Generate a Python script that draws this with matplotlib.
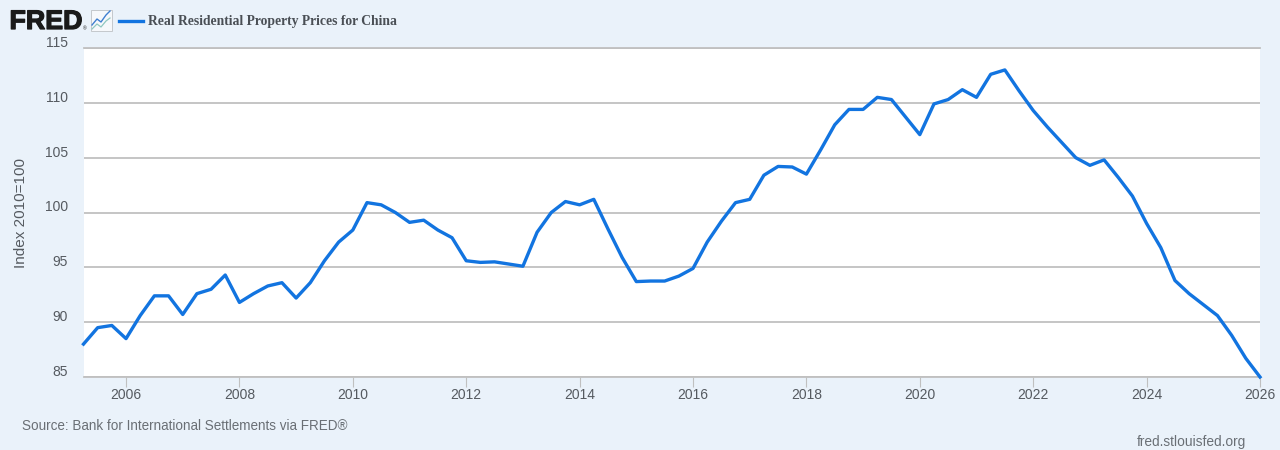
import numpy as np
import matplotlib
matplotlib.use("Agg")
import matplotlib.pyplot as plt
import matplotlib.patheffects as pe
from matplotlib.transforms import ScaledTranslation
from matplotlib.lines import Line2D
from matplotlib.patches import Rectangle

start_year = 2005.25
values = [
    88.0, 89.5, 89.7, 88.5, 90.6, 92.4, 92.4, 90.7, 92.6, 93.0, 94.3, 91.8,
    92.6, 93.3, 93.6, 92.2, 93.6, 95.6, 97.3, 98.4, 100.9, 100.7, 100.0, 99.1,
    99.3, 98.4, 97.7, 95.6, 95.45, 95.5, 95.3, 95.1, 98.2, 100.0, 101.0, 100.7,
    101.2, 98.5, 95.9, 93.7, 93.75, 93.75, 94.2, 94.9, 97.3, 99.2, 100.9, 101.2,
    103.4, 104.2, 104.15, 103.5, 105.7, 108.0, 109.4, 109.4, 110.5, 110.3, 108.7, 107.1,
    109.9, 110.3, 111.2, 110.5, 112.6, 113.0, 111.1, 109.3, 107.8, 106.4, 105.0, 104.3,
    104.8, 103.2, 101.5, 99.0, 96.8, 93.8, 92.6, 91.6, 90.6, 88.8, 86.7, 85.0,
]
x_ticks = [2006, 2008, 2010, 2012, 2014, 2016, 2018, 2020, 2022, 2024, 2026]
y_ticks = [85, 90, 95, 100, 105, 110, 115]
title = "Real Residential Property Prices for China"
y_label = "Index 2010=100"
source = "Source: Bank for International Settlements via FRED®"
site = "fred.stlouisfed.org"

W, H = 1280, 450
BG = "#eaf2fa"
LINE = "#1274e0"
GRID = "#c0c0c0"
TXT = "#555a60"
plt.rcParams["font.family"] = ["Liberation Sans", "DejaVu Sans"]

fig = plt.figure(figsize=(W / 100, H / 100), dpi=100, facecolor=BG)
ax = fig.add_axes([83.5 / W, 1 - 377 / H, (1260 - 83.5) / W, (377 - 48) / H], facecolor="white")

dates = start_year + np.arange(len(values)) * 0.25
ax.plot(dates, values, color=LINE, lw=2.4, solid_joinstyle="round", clip_on=False, zorder=3)

ax.set_xlim(start_year, 2026)
ax.set_ylim(85, 115)
ax.set_xticks(x_ticks)
ax.set_yticks(y_ticks)
ax.grid(axis="y", color=GRID, lw=1.3, zorder=1)
ax.set_axisbelow(True)
for s in ("left", "right"):
    ax.spines[s].set_visible(False)
for s in ("top", "bottom"):
    ax.spines[s].set_color(GRID)
    ax.spines[s].set_linewidth(1.3)
ax.tick_params(axis="x", length=7, width=0.8, color=GRID, labelsize=10, labelcolor=TXT, pad=0.6)
ax.tick_params(axis="y", length=0, labelsize=10, labelcolor=TXT, pad=11.2)
up = ScaledTranslation(0, 6.5 / 100, fig.dpi_scale_trans)
for lab in ax.get_yticklabels():
    lab.set_transform(lab.get_transform() + up)

def fx(px):
    return px / W

def fy(py):
    return 1 - py / H

fig.text(fx(21), fy(213), y_label, rotation=90, ha="center", va="center", fontsize=11, color=TXT)
fig.text(fx(22), fy(426.5), source, ha="left", va="center", fontsize=9.75, color="#6a6f75")
fig.text(fx(1246), fy(442), site, ha="right", va="center", fontsize=9.9, color="#6a6f75")

# Header: logo wordmark, small chart icon, legend key and title
fig.text(fx(9.5), fy(22), "FRED", ha="left", va="center", fontsize=19.3, fontweight="bold", color="#1a1a1a",
         path_effects=[pe.withStroke(linewidth=0.9, foreground="#1a1a1a")])
fig.text(fx(85), fy(29), "®", ha="center", va="center", fontsize=3.5, color="#1a1a1a")
fig.add_artist(Rectangle((fx(90.5), fy(31)), 21 / W, 21 / H, transform=fig.transFigure,
                         facecolor="#f6f8fb", edgecolor="#c4c8cc", lw=0.7))
fig.add_artist(Line2D([fx(92), fx(97), fx(101), fx(106), fx(110)], [fy(25), fy(19), fy(22), fy(15), fy(11)],
                      color="#3f7fd0", lw=1.0))
fig.add_artist(Line2D([fx(92), fx(97), fx(101), fx(106), fx(110)], [fy(29), fy(24), fy(27), fy(21), fy(18)],
                      color="#8fc7c0", lw=0.9))
fig.add_artist(Line2D([fx(119), fx(143)], [fy(21), fy(21)], color=LINE, lw=2.4))
fig.text(fx(148), fy(22), title, ha="left", va="center", fontsize=9.77, fontweight="bold",
         family=["Liberation Serif", "DejaVu Serif"], color="#4a4f55")

fig.savefig("out.png", dpi=100, facecolor=BG)
